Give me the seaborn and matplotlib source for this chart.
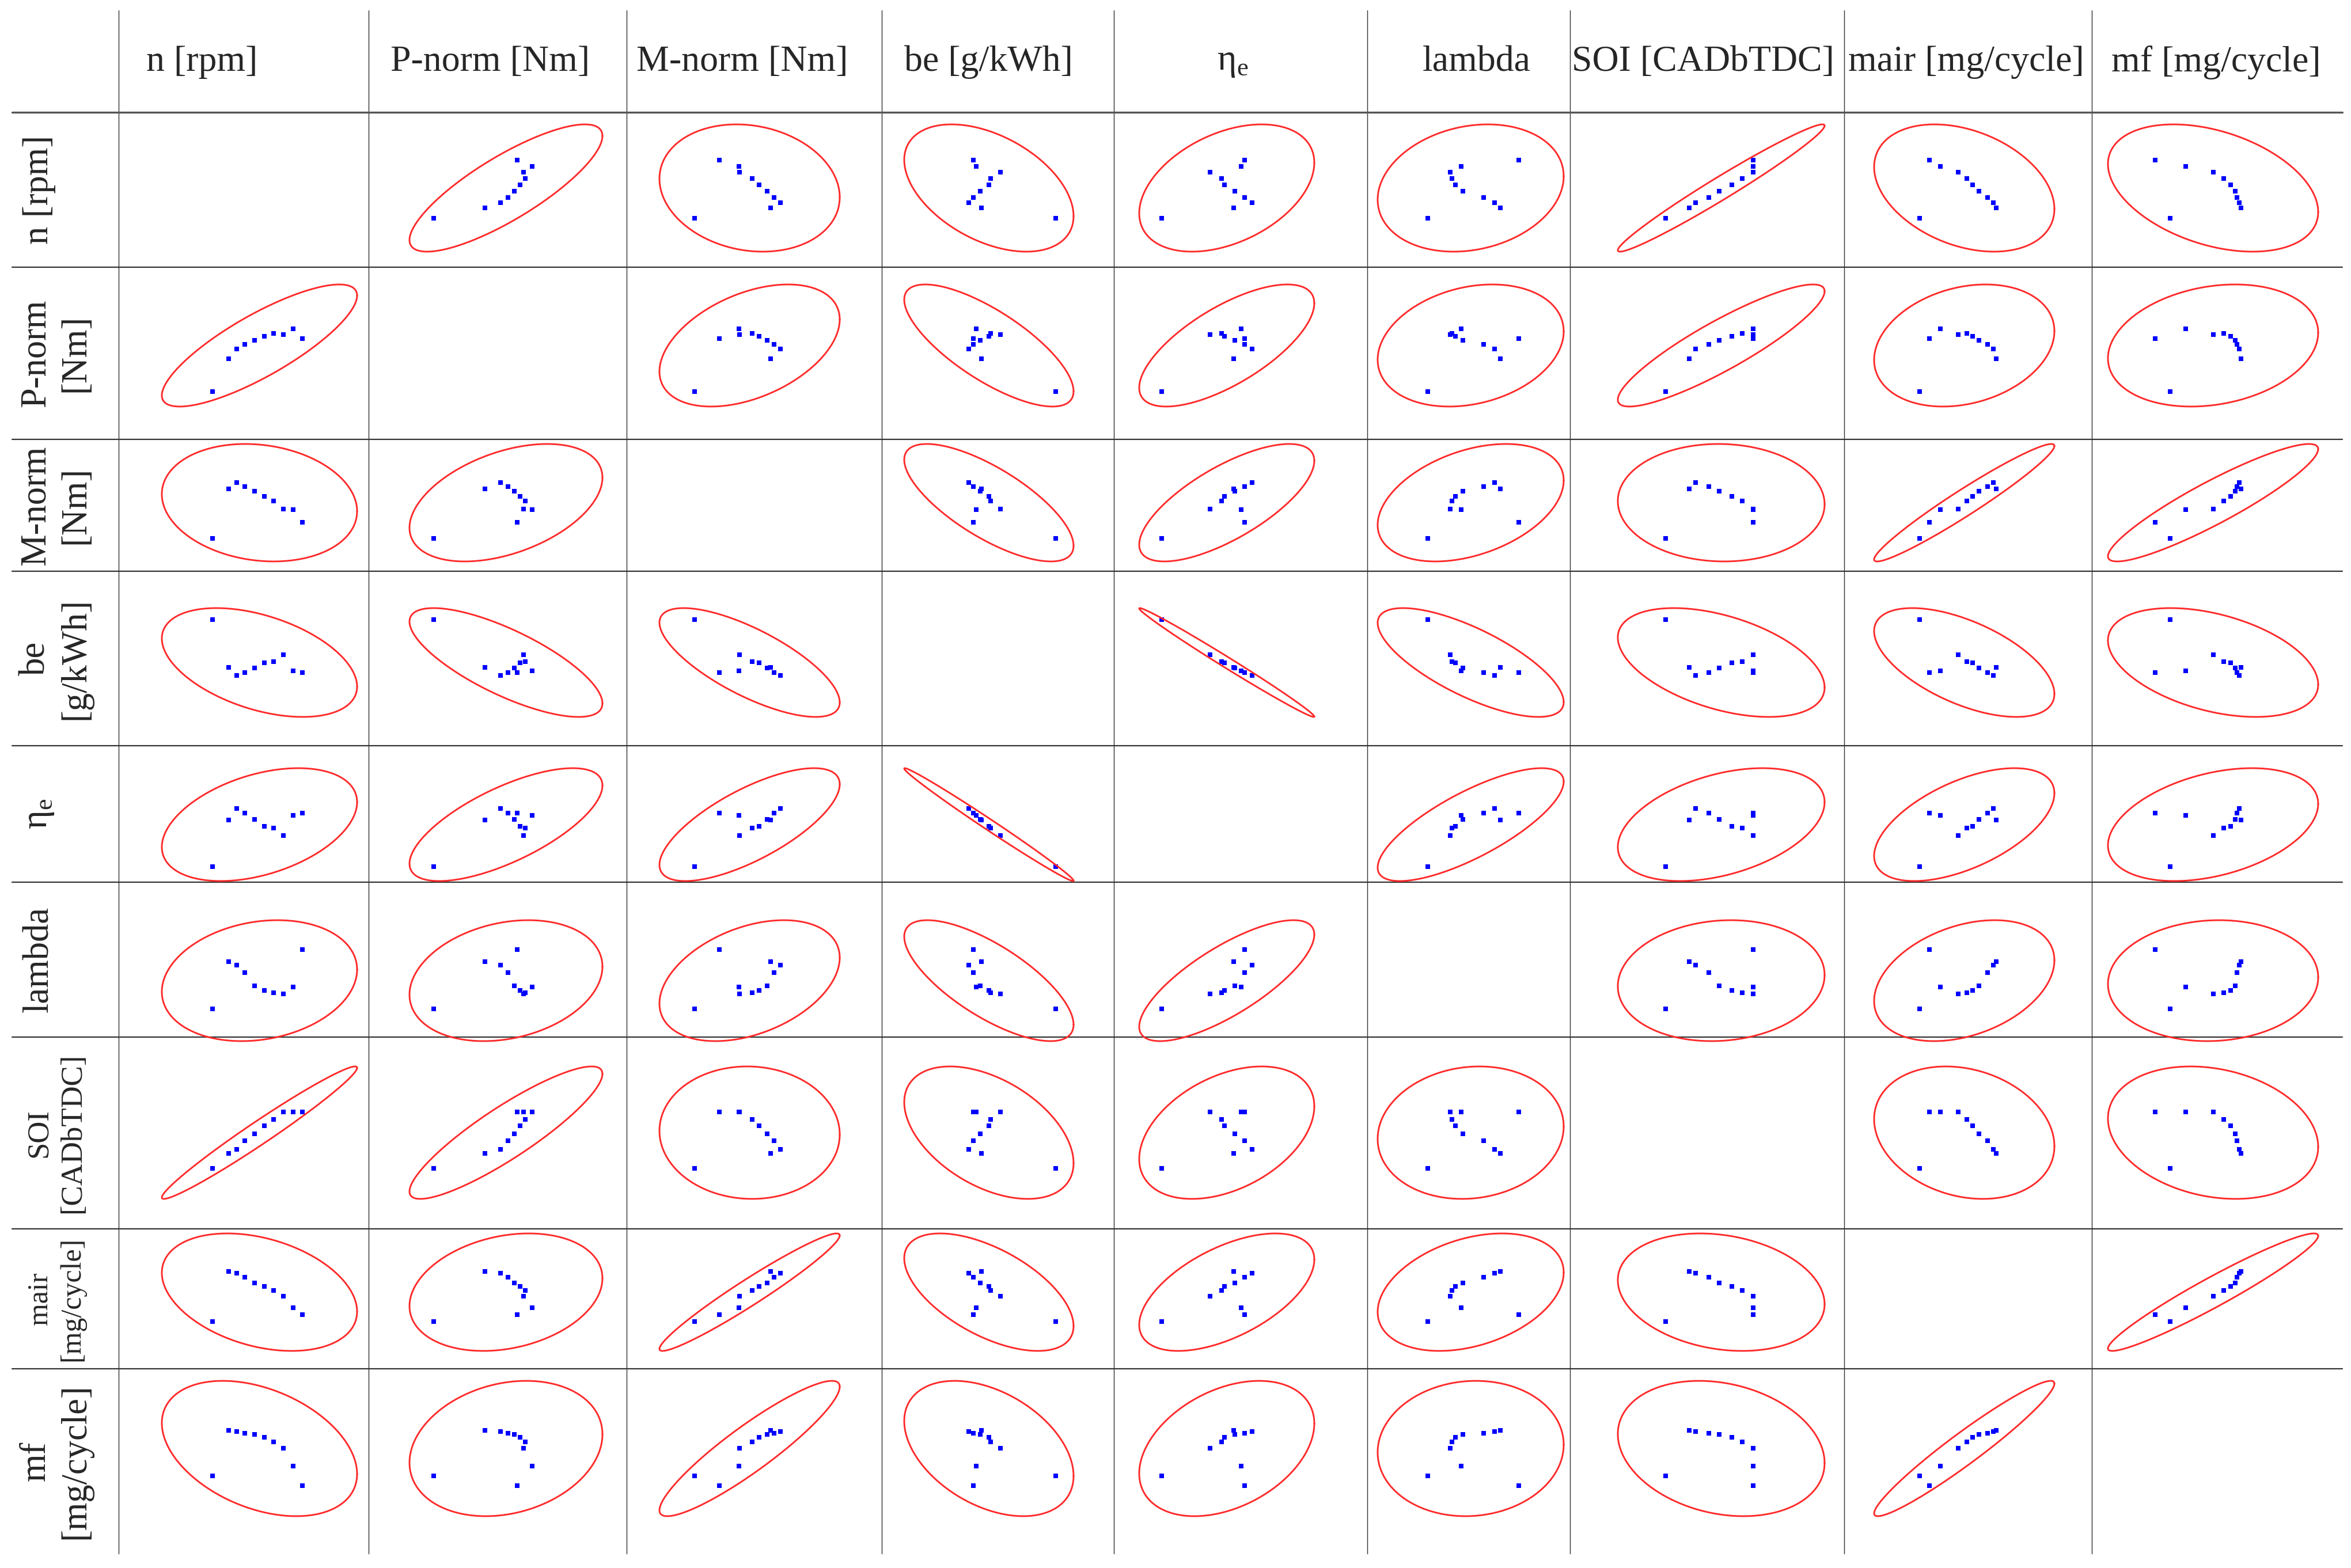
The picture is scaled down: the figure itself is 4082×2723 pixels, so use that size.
import numpy as np
import pandas as pd
import seaborn as sns
import matplotlib.pyplot as plt

# operating points (sorted by engine speed)
n_rpm = [1000, 1500, 1750, 2000, 2300, 2600, 2900, 3200, 3500, 3800]
p_norm = [14.6, 46.9, 56.7, 61.4, 65.5, 69.0, 72.1, 71.2, 76.4, 67.0]
m_norm = [189.0, 273.4, 284.2, 277.5, 269.5, 260.6, 253.0, 239.2, 238.4, 216.5]
be = [312, 224, 209, 215, 223, 233, 235, 247, 218, 215]
eta_e = [0.271, 0.378, 0.405, 0.394, 0.380, 0.364, 0.360, 0.343, 0.389, 0.394]
lam = [1.27, 1.66, 1.63, 1.57, 1.46, 1.42, 1.40, 1.39, 1.45, 1.76]
soi = [4.5, 6.8, 7.4, 8.7, 9.7, 10.9, 11.9, 13.0, 13.0, 13.0]
m_air = [752, 1010, 1001, 981, 952, 932, 911, 882, 822, 786]
m_f = [31.9, 45.4, 45.1, 44.7, 44.3, 43.4, 42.1, 40.1, 34.8, 29.0]

columns = ["n", "P", "M", "be", "eta", "lambda", "SOI", "mair", "mf"]
header_labels = ["n [rpm]", "P-norm [Nm]", "M-norm [Nm]", "be [g/kWh]", r"η$_\mathregular{e}$",
                 "lambda", "SOI [CADbTDC]", "mair [mg/cycle]", "mf [mg/cycle]"]
row_labels = ["n [rpm]", "P-norm\n[Nm]", "M-norm\n[Nm]", "be\n[g/kWh]", r"η$_\mathregular{e}$",
              "lambda", "SOI\n[CADbTDC]", "mair\n[mg/cycle]", "mf\n[mg/cycle]"]
row_label_size = [45, 45, 45, 45, 45, 45, 38, 36, 45]

df = pd.DataFrame(dict(zip(columns, [n_rpm, p_norm, m_norm, be, eta_e, lam, soi, m_air, m_f])))

# table layout in pixels
W, H = 4082, 2723
col_lines = [206, 640, 1088, 1531, 1934, 2374, 2726, 3202, 3632]
row_lines = [195, 464, 763, 992, 1295, 1532, 1801, 2134, 2377]
col_ell = [(281, 620), (711, 1046), (1145, 1458), (1570, 1864), (1978, 2282),
           (2392, 2715), (2809, 3168), (3254, 3567), (3660, 4025)]
row_ell = [(216, 437), (494, 706), (771, 975), (1056, 1245), (1334, 1530),
           (1598, 1808), (1852, 2082), (2142, 2346), (2398, 2633)]
header_x = [351, 851, 1289, 1716, 2140, 2564, 2957, 3414, 3848]
k = 3.35  # ellipse scale in standard deviations

sns.set_style("white")
plt.rcParams['font.family'] = ['Liberation Serif', 'DejaVu Serif']
plt.rcParams['mathtext.fontset'] = 'custom'
plt.rcParams['mathtext.rm'] = 'Liberation Serif'

fig = plt.figure(figsize=(W / 100, H / 100), dpi=100)
bg = fig.add_axes([0, 0, 1, 1])
bg.set_xlim(0, W)
bg.set_ylim(H, 0)
bg.axis('off')

for x in col_lines:
    bg.plot([x, x], [18, 2698], color='#303030', lw=1.0)
for i, y in enumerate(row_lines):
    bg.plot([21, 4067], [y, y], color='#555555' if i == 0 else '#333333', lw=2.4 if i == 0 else 1.6)

for x, lab in zip(header_x, header_labels):
    bg.text(x, 108, lab, fontsize=46, ha='center', va='center')

for i, lab in enumerate(row_labels):
    top = row_lines[i]
    bottom = row_lines[i + 1] if i + 1 < len(row_lines) else 2698
    xpos = 97 if "\n" in lab else 68
    bg.text(xpos, (top + bottom) / 2, lab, fontsize=row_label_size[i], rotation=90,
            ha='center', va='center', multialignment='center', linespacing=1.25)

theta = np.linspace(0, 2 * np.pi, 400)
for i, ycol in enumerate(columns):
    for j, xcol in enumerate(columns):
        if i == j:
            continue
        x0, x1 = col_ell[j]
        y0, y1 = row_ell[i]
        ax = fig.add_axes([x0 / W, 1 - y1 / H, (x1 - x0) / W, (y1 - y0) / H])
        xv = df[xcol].to_numpy(float)
        yv = df[ycol].to_numpy(float)
        mean = np.array([xv.mean(), yv.mean()])
        cov = np.cov(xv, yv)
        L = np.linalg.cholesky(cov)
        ring = mean[:, None] + k * L @ np.vstack([np.cos(theta), np.sin(theta)])
        ax.plot(ring[0], ring[1], color='#ff2a2a', lw=2.1, clip_on=False)
        sns.scatterplot(data=df, x=xcol, y=ycol, ax=ax, marker='s', s=38, color='#0000ff',
                        linewidth=0, clip_on=False)
        sx, sy = np.sqrt(np.diag(cov))
        ax.set_xlim(mean[0] - k * sx, mean[0] + k * sx)
        ax.set_ylim(mean[1] - k * sy, mean[1] + k * sy)
        ax.axis('off')

fig.savefig("out.png", dpi=100)
